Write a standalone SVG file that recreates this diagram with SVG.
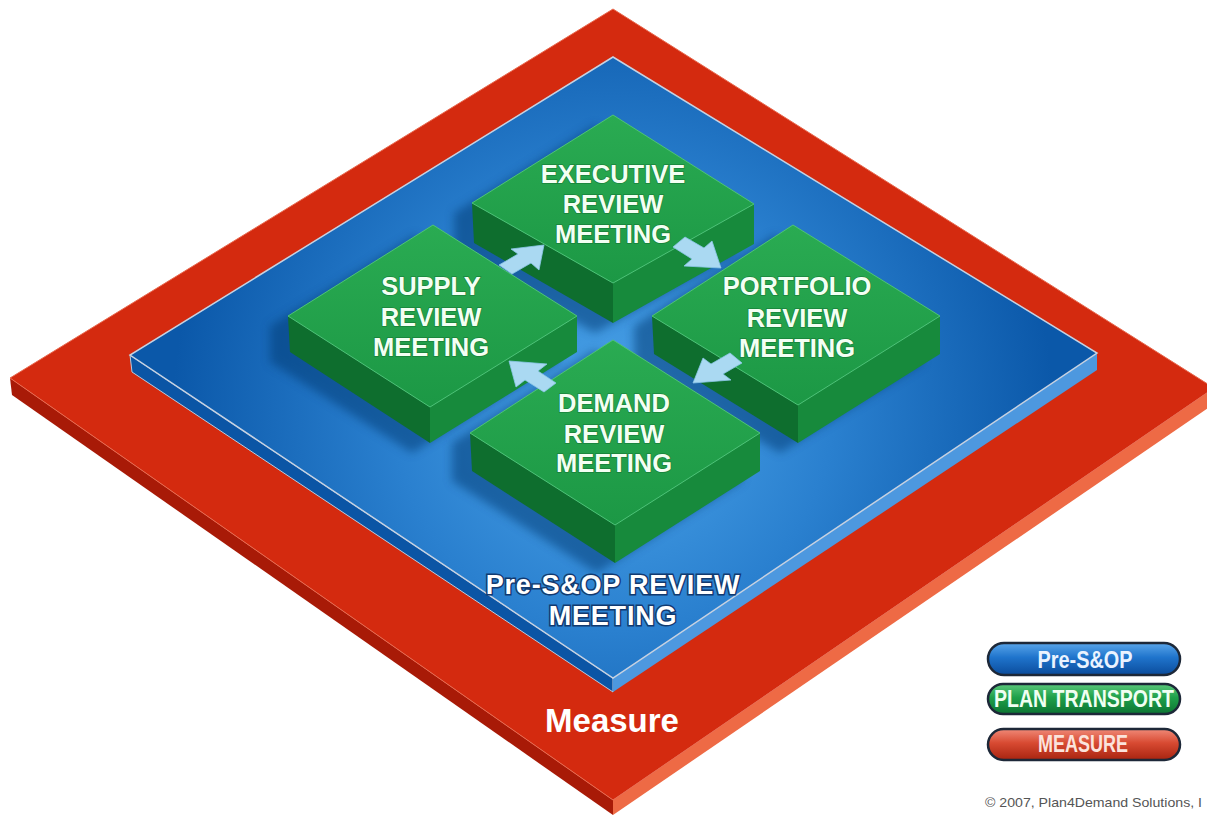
<svg xmlns="http://www.w3.org/2000/svg" width="1207" height="815" viewBox="0 0 1207 815">
  <style>
    .lbl { font-family: "Liberation Sans", Arial, sans-serif; font-weight: bold; font-size: 25.5px; fill: #f3fff3; text-anchor: middle; stroke: #0a5a24; stroke-width: 1.5px; stroke-opacity: 0.45; paint-order: stroke; }
    .top { fill: url(#greenTop); stroke: #4ec474; stroke-width: 1; }
    .sideL { fill: #0e6e2e; }
    .sideR { fill: #178a3c; }
    .shadow { fill: #06386f; opacity: 0.5; filter: url(#soft); }
    .arrow { fill: #aad9f2; stroke: #8cc6e8; stroke-width: 0.8; }
    .pill { stroke: #1d2838; stroke-width: 2.5; }
    .pilltxt { font-family: "Liberation Sans", Arial, sans-serif; font-weight: bold; font-size: 23px; text-anchor: middle; }
    .plate { font-family: "Liberation Sans", Arial, sans-serif; font-weight: bold; font-size: 27px; letter-spacing: 0.8px; fill: #ffffff; stroke: #123a70; stroke-width: 3px; paint-order: stroke; text-anchor: middle; }
  </style>
  <defs>
    <radialGradient id="bluePlate" gradientUnits="userSpaceOnUse" cx="613" cy="410" r="440">
      <stop offset="0" stop-color="#4ba4e9"/>
      <stop offset="0.5" stop-color="#2a80cf"/>
      <stop offset="1" stop-color="#0b58a9"/>
    </radialGradient>
    <linearGradient id="greenTop" x1="0" y1="0" x2="0" y2="1">
      <stop offset="0" stop-color="#2aab52"/>
      <stop offset="1" stop-color="#1c9845"/>
    </linearGradient>
    <linearGradient id="pillBlue" x1="0" y1="0" x2="0" y2="1">
      <stop offset="0" stop-color="#5aa6ea"/>
      <stop offset="0.45" stop-color="#1f74cc"/>
      <stop offset="1" stop-color="#0b4c9c"/>
    </linearGradient>
    <linearGradient id="pillGreen" x1="0" y1="0" x2="0" y2="1">
      <stop offset="0" stop-color="#5cc97c"/>
      <stop offset="0.45" stop-color="#1fa04a"/>
      <stop offset="1" stop-color="#0c7432"/>
    </linearGradient>
    <linearGradient id="pillRed" x1="0" y1="0" x2="0" y2="1">
      <stop offset="0" stop-color="#f08a78"/>
      <stop offset="0.45" stop-color="#d84a32"/>
      <stop offset="1" stop-color="#a82410"/>
    </linearGradient>
    <filter id="soft" x="-20%" y="-20%" width="140%" height="140%">
      <feGaussianBlur stdDeviation="5"/>
    </filter>
  </defs>

  <!-- outer measure slab -->
  <g id="measure-slab">
    <polygon points="10,378 613,800 613,815 12,395" fill="#a81a07"/>
    <polygon points="613,800 1214,388 1214,404 613,815" fill="#ee6a45"/>
    <polygon points="613,9 1214,388 613,800 10,378" fill="#d42a0f" stroke="#e86a50" stroke-width="1"/>
    <text x="612" y="732" font-family="'Liberation Sans', Arial, sans-serif" font-weight="bold" font-size="33" fill="#ffffff" text-anchor="middle">Measure</text>
  </g>

  <!-- pre-S&OP plate -->
  <g id="pre-sop-plate">
    <polygon points="130,355 613,678 613,692 132,372" fill="#0b55a5" stroke="#b8cbe0" stroke-width="1"/>
    <polygon points="613,678 1097,353 1097,370 613,692" fill="#4d98df"/>
    <polygon points="613,57 1097,353 613,678 130,355" fill="url(#bluePlate)" stroke="#c6d2e2" stroke-width="1.5"/>
    <text class="plate" x="613" y="594">Pre-S&amp;OP REVIEW</text>
    <text class="plate" x="613" y="625">MEETING</text>
  </g>

  <!-- block shadows on the plate -->
  <g id="shadows">
    <polygon class="shadow" points="595,125 736,214 736,254 595,333 454,253 454,213"/>
    <polygon class="shadow" points="415,235 559,326 559,362 412,453 270,362 270,326"/>
    <polygon class="shadow" points="775,235 922,326 922,364 780,453 634,364 634,326"/>
    <polygon class="shadow" points="595,350 742,443 742,481 597,573 452,481 452,443"/>
  </g>

  <!-- meeting blocks -->
  <g id="executive">
    <polygon class="sideL" points="472,203 613,283 613,323 474,243"/>
    <polygon class="sideR" points="613,283 754,204 754,244 613,323"/>
    <polygon class="top" points="613,115 754,204 613,283 472,203"/>
    <text class="lbl" x="613" y="183">EXECUTIVE</text>
    <text class="lbl" x="613" y="213">REVIEW</text>
    <text class="lbl" x="613" y="243">MEETING</text>
  </g>

  <g id="supply">
    <polygon class="sideL" points="288,316 430,407 430,443 290,352"/>
    <polygon class="sideR" points="430,407 577,316 577,352 430,443"/>
    <polygon class="top" points="433,225 577,316 430,407 288,316"/>
    <text class="lbl" x="431" y="295">SUPPLY</text>
    <text class="lbl" x="431" y="326">REVIEW</text>
    <text class="lbl" x="431" y="356">MEETING</text>
  </g>

  <g id="portfolio">
    <polygon class="sideL" points="652,316 798,405 798,443 654,354"/>
    <polygon class="sideR" points="798,405 940,316 940,354 798,443"/>
    <polygon class="top" points="793,225 940,316 798,405 652,316"/>
    <text class="lbl" x="797" y="295">PORTFOLIO</text>
    <text class="lbl" x="797" y="327">REVIEW</text>
    <text class="lbl" x="797" y="357">MEETING</text>
  </g>

  <g id="demand">
    <polygon class="sideL" points="470,433 615,525 615,563 472,471"/>
    <polygon class="sideR" points="615,525 760,433 760,471 615,563"/>
    <polygon class="top" points="613,340 760,433 615,525 470,433"/>
    <text class="lbl" x="614" y="412">DEMAND</text>
    <text class="lbl" x="614" y="443">REVIEW</text>
    <text class="lbl" x="614" y="472">MEETING</text>
  </g>

  <!-- flow arrows between meetings -->
  <g id="connectors">
    <polygon class="arrow" points="544,245 539,270 531,263 512,274 499,265 518,254 511,249"/>
    <polygon class="arrow" points="721,268 684,266 692,259 673,247 685,237 704,248 712,241"/>
    <polygon class="arrow" points="693,383 703,358 711,364 730,353 742,363 723,374 731,380"/>
    <polygon class="arrow" points="509,361 547,364 538,371 556,383 544,392 525,380 516,387"/>
  </g>

  <!-- legend -->
  <g id="legend">
    <rect class="pill" x="988" y="643" width="192" height="32" rx="16" fill="url(#pillBlue)"/>
    <text class="pilltxt" x="1085" y="668" fill="#eaf3ff" textLength="95" lengthAdjust="spacingAndGlyphs">Pre-S&amp;OP</text>
    <rect class="pill" x="988" y="684" width="192" height="30" rx="15" fill="url(#pillGreen)"/>
    <text class="pilltxt" x="1084" y="707" fill="#f0fff2" textLength="180" lengthAdjust="spacingAndGlyphs">PLAN TRANSPORT</text>
    <rect class="pill" x="988" y="729" width="192" height="31" rx="15.5" fill="url(#pillRed)"/>
    <text class="pilltxt" x="1083" y="752" fill="#fbe3dc" textLength="90" lengthAdjust="spacingAndGlyphs">MEASURE</text>
  </g>

  <text x="985" y="807" font-family="'Liberation Sans', Arial, sans-serif" font-size="13" fill="#555555" textLength="217" lengthAdjust="spacingAndGlyphs">© 2007, Plan4Demand Solutions, I</text>
</svg>
